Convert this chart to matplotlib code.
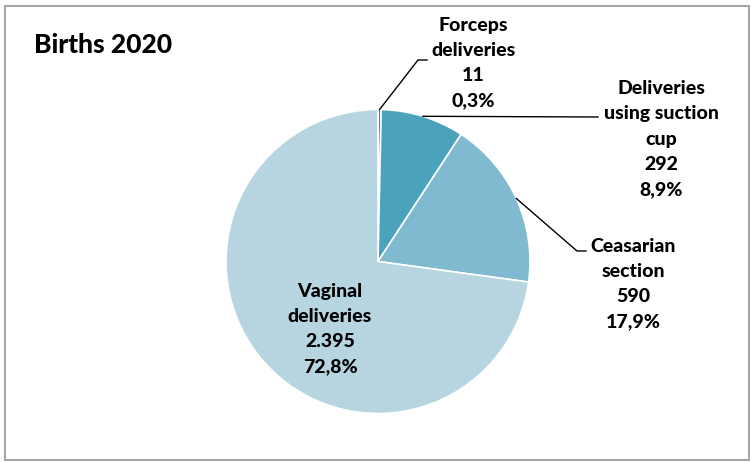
import numpy as np
import matplotlib.pyplot as plt
from matplotlib.patches import Rectangle

# data
labels = ["Forceps\ndeliveries", "Deliveries\nusing suction\ncup", "Ceasarian\nsection", "Vaginal\ndeliveries"]
counts = [11, 292, 590, 2395]
count_text = ["11", "292", "590", "2.395"]
colors = ["#2f8ba5", "#4aa3bb", "#7fbad0", "#b7d5e0"]
title = "Births 2020"

W, H = 751, 462
plt.rcParams['font.family'] = ['Lato', 'DejaVu Sans']

fig = plt.figure(figsize=(W / 100, H / 100), dpi=100)
ax = fig.add_axes([0, 0, 1, 1])
ax.set_xlim(0, W)
ax.set_ylim(0, H)
ax.set_aspect("equal")
ax.axis("off")


def py(y):
    # convert top-down pixel y to axes y
    return H - y


cx, cy, r = 378, 261.5, 152

wedges, _ = ax.pie(counts, colors=colors, startangle=90, counterclock=False,
                   center=(cx, py(cy)), radius=r,
                   wedgeprops=dict(edgecolor="white", linewidth=1.2))
ax.set_xlim(0, W)
ax.set_ylim(0, H)

total = sum(counts)
pct = [f"{c / total * 100:.1f}".replace(".", ",") + "%" for c in counts]
texts = [f"{l}\n{n}\n{p}" for l, n, p in zip(labels, count_text, pct)]

# edge points at each wedge's middle angle
mids = [(w.theta1 + w.theta2) / 2 for w in wedges]
edge = [(cx + r * np.cos(np.radians(a)), py(cy) + r * np.sin(np.radians(a))) for a in mids]

fs = 14
kw = dict(fontsize=fs, fontweight="black", ha="center", va="center", linespacing=1.58, color="black")

# forceps
ax.plot([edge[0][0], 418, 427], [edge[0][1], py(60), py(60)], color="black", lw=1)
ax.text(473, py(63), texts[0], **kw)
# suction cup
ax.plot([edge[1][0], 598], [edge[1][1], py(117)], color="black", lw=1)
ax.text(661, py(139), texts[1], **kw)
# cesarean
ax.plot([edge[2][0], 577, 586], [edge[2][1], py(251), py(251)], color="black", lw=1)
ax.text(633, py(284), texts[2], **kw)
# vaginal
ax.text(330, py(329), texts[3], **kw)

ax.text(34, py(45), title, fontsize=19, fontweight="black", ha="left", va="center")

ax.add_patch(Rectangle((5, py(460)), 744, 454, fill=False, edgecolor="#a6a6a6", lw=1.5))

fig.savefig("out.png", dpi=100)
